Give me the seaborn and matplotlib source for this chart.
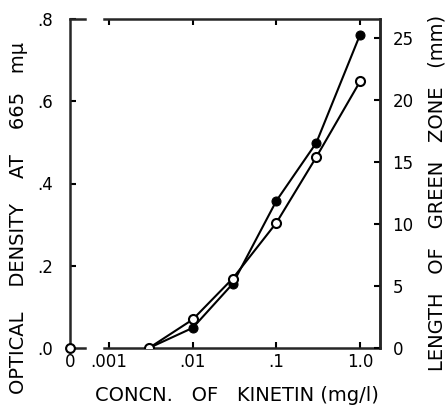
import matplotlib
matplotlib.use('Agg')
import matplotlib.pyplot as plt
from matplotlib.ticker import NullLocator
import seaborn as sns
import pandas as pd

# values
conc = [0, 0.003, 0.01, 0.03, 0.1, 0.3, 1.0]
optical_density = [0.0, 0.0, 0.049, 0.156, 0.358, 0.499, 0.762]
green_zone_mm = [0.0, 0.0, 2.3, 5.6, 10.1, 15.4, 21.5]

x_ticks = [0.001, 0.01, 0.1, 1.0]
x_tick_labels = ['.001', '.01', '.1', '1.0']
od_ticks = [0, 0.2, 0.4, 0.6, 0.8]
od_tick_labels = ['.0', '.2', '.4', '.6', '.8']
mm_ticks = [0, 5, 10, 15, 20, 25]
mm_tick_labels = ['0', '5', '10', '15', '20', '25']

df = pd.DataFrame({'conc': conc, 'od': optical_density, 'mm': green_zone_mm})
pos = df[df['conc'] > 0]
zero = df[df['conc'] == 0]

sns.set_style('ticks')
plt.rcParams['font.family'] = ['DejaVu Sans']
plt.rcParams['text.color'] = 'black'
plt.rcParams['axes.labelcolor'] = 'black'

W, H = 447, 409
fig = plt.figure(figsize=(W / 100, H / 100), dpi=100)

top_px, bot_px = 19, 348
b = 1 - bot_px / H
h = (bot_px - top_px) / H

lw_spine = 1.8
tick_kw = dict(direction='in', length=4, width=1.5, labelsize=12,
               colors='black', labelcolor='black')

# main log axis
ax = fig.add_axes([104 / W, b, (380 - 104) / W, h])
ax.set_xscale('log')
sns.lineplot(data=pos, x='conc', y='od', ax=ax, color='black', lw=1.5,
             marker='o', ms=6.5, mfc='black', mec='black', estimator=None)
ax.set_xlim(0.00087, 1.73)
ax.set_ylim(0, 0.8)
ax.xaxis.set_minor_locator(NullLocator())
ax.set_xticks(x_ticks)
ax.set_xticklabels(x_tick_labels)
ax.set_yticks([])
ax.tick_params(axis='x', top=True, pad=3.5, **tick_kw)
ax.set_xlabel('CONCN.   OF   KINETIN (mg/l)', fontsize=14, labelpad=9)
ax.xaxis.set_label_coords((237 - 104) / (380 - 104), -0.115)
ax.set_ylabel('')
ax.spines['left'].set_visible(False)
for s in ['top', 'bottom', 'right']:
    ax.spines[s].set_linewidth(lw_spine)

# right axis: length of green zone
ax2 = ax.twinx()
sns.lineplot(data=pos, x='conc', y='mm', ax=ax2, color='black', lw=1.5,
             marker='o', ms=6.5, mfc='white', mec='black', mew=1.5, estimator=None)
ax2.set_ylim(0, (bot_px - top_px) / 12.4)
ax2.set_yticks(mm_ticks)
ax2.set_yticklabels(mm_tick_labels)
ax2.tick_params(axis='y', pad=9, **tick_kw)
ax2.set_ylabel('')
for s in ['left', 'top', 'bottom']:
    ax2.spines[s].set_visible(False)
ax2.spines['right'].set_linewidth(lw_spine)

# short axis piece holding the zero concentration
ax0 = fig.add_axes([70 / W, b, 15 / W, h])
ax0.set_xlim(0, 1)
ax0.set_ylim(0, 0.8)
sns.scatterplot(data=zero, x='conc', y='od', ax=ax0, color='black', s=40,
                edgecolor='black', clip_on=False, zorder=5)
sns.scatterplot(data=zero, x='conc', y='mm', ax=ax0, color='white', s=40,
                edgecolor='black', linewidth=1.5, clip_on=False, zorder=6)
ax0.set_xticks([0])
ax0.set_xticklabels(['0'])
ax0.set_yticks(od_ticks)
ax0.set_yticklabels(od_tick_labels)
ax0.tick_params(axis='y', pad=12, **tick_kw)
ax0.tick_params(axis='x', direction='in', length=0, labelsize=12, pad=3.5,
                labelcolor='black')
ax0.set_xlabel('')
ax0.set_ylabel('')
ax0.spines['right'].set_visible(False)
for s in ['top', 'bottom', 'left']:
    ax0.spines[s].set_linewidth(lw_spine)

fig.text(19 / W, 1 - 218 / H, 'OPTICAL    DENSITY    AT    665   m\u03bc', rotation=90,
         ha='center', va='center', fontsize=14)
fig.text(437 / W, 1 - 193 / H, 'LENGTH   OF   GREEN   ZONE   (mm)', rotation=90,
         ha='center', va='center', fontsize=14)

fig.savefig('out.png', dpi=100)
